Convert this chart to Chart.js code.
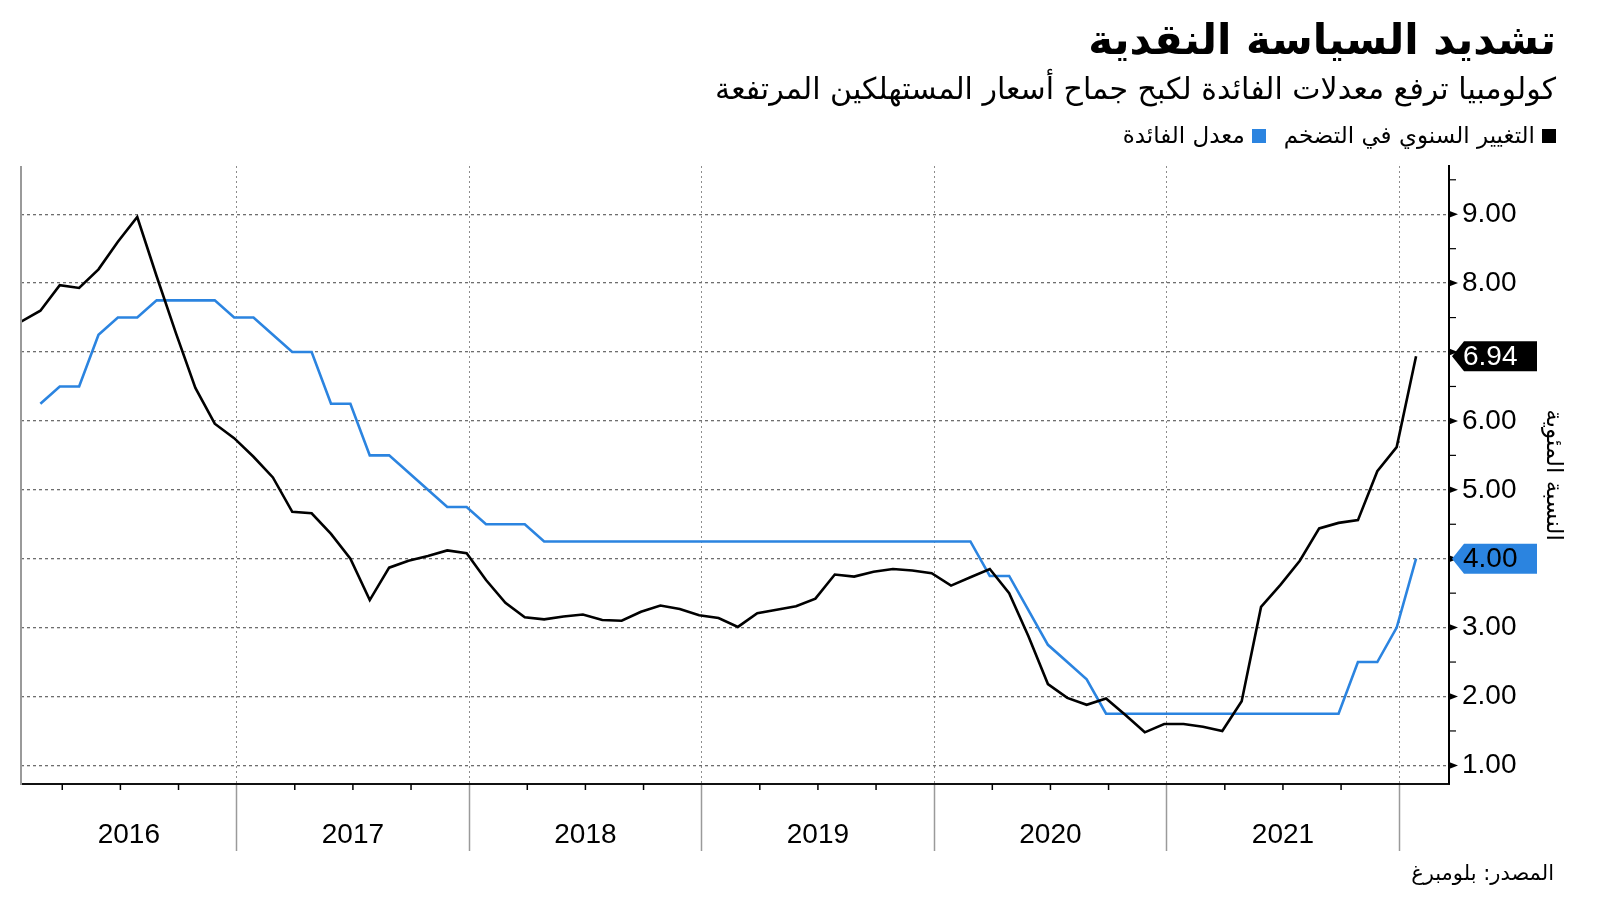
<!DOCTYPE html>
<html lang="ar">
<head>
<meta charset="utf-8">
<title>تشديد السياسة النقدية</title>
<script src="https://cdn.jsdelivr.net/npm/chart.js@4.4.1/dist/chart.umd.min.js"></script>
<style>
  html, body { margin: 0; padding: 0; background: #fff; }
  #wrap { position: relative; width: 1600px; height: 901px; overflow: hidden; font-family: "DejaVu Sans", sans-serif; }
  #chart { position: absolute; left: 0; top: 0; }
  .txt { position: absolute; right: 44px; direction: rtl; white-space: nowrap; color: #000; line-height: 1.2; }
  #title { top: 15px; font-size: 42px; font-weight: bold; }
  #subtitle { top: 71px; font-size: 30px; }
  #legend { top: 122px; font-size: 23px; }
  .sw { display: inline-block; width: 14px; height: 14px; margin-left: 7px; vertical-align: 0px; }
  #source { top: 861px; right: 46px; font-size: 21px; }
</style>
</head>
<body>
<div id="wrap">
  <canvas id="chart" width="1600" height="901"></canvas>
  <div id="title" class="txt">تشديد السياسة النقدية</div>
  <div id="subtitle" class="txt">كولومبيا ترفع معدلات الفائدة لكبح جماح أسعار المستهلكين المرتفعة</div>
  <div id="legend" class="txt"><span class="sw" id="sw1"></span>التغيير السنوي في التضخم<span class="sw" id="sw2" style="margin-right:18px"></span>معدل الفائدة</div>
  <div id="source" class="txt">المصدر: بلومبرغ</div>
</div>
<script>
// monthly data, Jan 2016 .. Jan 2022
const years = ['2016', '2017', '2018', '2019', '2020', '2021'];
const yTicks = [1, 2, 3, 4, 5, 6, 7, 8, 9];

// annual change in inflation (%)
const inflation = [
  7.44, 7.60, 7.97, 7.93, 8.20, 8.60, 8.96, 8.10, 7.27, 6.48, 5.96, 5.75,
  5.48, 5.18, 4.68, 4.66, 4.36, 4.00, 3.40, 3.87, 3.97, 4.04, 4.12, 4.08,
  3.69, 3.36, 3.15, 3.12, 3.16, 3.19, 3.11, 3.10, 3.23, 3.32, 3.27, 3.18,
  3.14, 3.01, 3.21, 3.26, 3.31, 3.42, 3.77, 3.74, 3.81, 3.85, 3.83, 3.79,
  3.61, 3.73, 3.85, 3.50, 2.87, 2.18, 1.98, 1.88, 1.97, 1.73, 1.48, 1.60,
  1.60, 1.56, 1.50, 1.93, 3.30, 3.62, 3.97, 4.44, 4.52, 4.56, 5.27, 5.62,
  6.94
];

// interest rate (%)
const rate = [
  null, 6.25, 6.50, 6.50, 7.25, 7.50, 7.50, 7.75, 7.75, 7.75, 7.75, 7.50,
  7.50, 7.25, 7.00, 7.00, 6.25, 6.25, 5.50, 5.50, 5.25, 5.00, 4.75, 4.75,
  4.50, 4.50, 4.50, 4.25, 4.25, 4.25, 4.25, 4.25, 4.25, 4.25, 4.25, 4.25,
  4.25, 4.25, 4.25, 4.25, 4.25, 4.25, 4.25, 4.25, 4.25, 4.25, 4.25, 4.25,
  4.25, 4.25, 3.75, 3.75, 3.25, 2.75, 2.50, 2.25, 1.75, 1.75, 1.75, 1.75,
  1.75, 1.75, 1.75, 1.75, 1.75, 1.75, 1.75, 1.75, 1.75, 2.50, 2.50, 3.00,
  4.00
];

const black = '#000000';
const blue = '#2b84e0';
const numFont = '"Liberation Sans", Arial, sans-serif';

document.getElementById('sw1').style.background = black;
document.getElementById('sw2').style.background = blue;

// x = months since 1 Jan 2016, readings fall near the end of each month
const dayOffset = 0.87;
const toPoints = (arr) => arr.map((v, i) => ({ x: i + dayOffset, y: v }));
const xMin = dayOffset;
const xMax = inflation.length - 1 + dayOffset + 1.7;

const lastInfl = inflation[inflation.length - 1];
const lastRate = rate[rate.length - 1];
const badges = [
  { value: lastInfl, bg: black, fg: '#fff' },
  { value: lastRate, bg: blue, fg: '#000' }
];

const axisDecor = {
  id: 'axisDecor',
  afterDraw(chart) {
    const { ctx, chartArea: a, scales: { x, y } } = chart;
    ctx.save();

    // left axis line
    ctx.strokeStyle = '#9a9a9a';
    ctx.lineWidth = 2;
    ctx.beginPath();
    ctx.moveTo(a.left, a.top);
    ctx.lineTo(a.left, a.bottom + 1);
    ctx.stroke();

    // quarter ticks under the axis
    ctx.strokeStyle = '#000';
    ctx.lineWidth = 1.5;
    for (let m = 3; m < xMax; m += 3) {
      if (m % 12 === 0 || m < xMin) continue;
      const px = x.getPixelForValue(m);
      ctx.beginPath();
      ctx.moveTo(px, a.bottom);
      ctx.lineTo(px, a.bottom + 6);
      ctx.stroke();
    }

    // year labels, centred in the visible part of each year
    ctx.fillStyle = '#000';
    ctx.font = '28px ' + numFont;
    ctx.textAlign = 'center';
    ctx.textBaseline = 'middle';
    years.forEach((yr, k) => {
      const from = x.getPixelForValue(Math.max(xMin, k * 12));
      const to = x.getPixelForValue(Math.min(xMax, (k + 1) * 12));
      ctx.fillText(yr, (from + to) / 2, a.bottom + 51);
    });

    // arrow marks at major ticks, short marks at halves
    const ax = a.right;
    yTicks.forEach((v) => {
      const py = y.getPixelForValue(v);
      ctx.fillStyle = '#000';
      ctx.beginPath();
      ctx.moveTo(ax, py - 3.5);
      ctx.lineTo(ax + 9, py);
      ctx.lineTo(ax, py + 3.5);
      ctx.closePath();
      ctx.fill();
      const ph = y.getPixelForValue(v + 0.5);
      if (ph > a.top) {
        ctx.strokeStyle = '#000';
        ctx.lineWidth = 1.2;
        ctx.beginPath();
        ctx.moveTo(ax, ph);
        ctx.lineTo(ax + 7, ph);
        ctx.stroke();
      }
    });

    // last value badges
    ctx.font = '28px ' + numFont;
    ctx.textAlign = 'left';
    badges.forEach((b) => {
      const py = y.getPixelForValue(b.value);
      const h = 30;
      ctx.fillStyle = b.bg;
      ctx.beginPath();
      ctx.moveTo(ax + 3, py);
      ctx.lineTo(ax + 15, py - h / 2);
      ctx.lineTo(ax + 88, py - h / 2);
      ctx.lineTo(ax + 88, py + h / 2);
      ctx.lineTo(ax + 15, py + h / 2);
      ctx.closePath();
      ctx.fill();
      ctx.fillStyle = b.fg;
      ctx.fillText(b.value.toFixed(2), ax + 14, py + 1);
    });

    ctx.restore();
  }
};

new Chart(document.getElementById('chart').getContext('2d'), {
  type: 'line',
  data: {
    datasets: [
      {
        label: 'التغيير السنوي في التضخم',
        data: toPoints(inflation),
        borderColor: black,
        borderWidth: 2.6,
        pointRadius: 0,
        tension: 0
      },
      {
        label: 'معدل الفائدة',
        data: toPoints(rate),
        borderColor: blue,
        borderWidth: 2.6,
        pointRadius: 0,
        tension: 0
      }
    ]
  },
  options: {
    responsive: false,
    animation: false,
    devicePixelRatio: 1,
    events: [],
    layout: { padding: { top: 166, left: 21, right: 0, bottom: 0 } },
    plugins: { legend: { display: false }, tooltip: { enabled: false } },
    scales: {
      x: {
        type: 'linear',
        min: xMin,
        max: xMax,
        afterBuildTicks: (s) => {
          s.ticks = [12, 24, 36, 48, 60, 72].map((v) => ({ value: v }));
        },
        afterFit: (s) => { s.height = 117; },
        ticks: { display: false },
        grid: {
          color: '#8c8c8c',
          lineWidth: 1,
          drawTicks: true,
          tickLength: 67,
          tickColor: '#9a9a9a',
          tickWidth: 1.5
        },
        border: { display: true, color: '#111', width: 2, dash: [2, 3] }
      },
      y: {
        position: 'right',
        min: 0.73,
        max: 9.7,
        afterBuildTicks: (s) => {
          s.ticks = yTicks.map((v) => ({ value: v }));
        },
        afterFit: (s) => { s.width = 151; },
        ticks: {
          padding: 13,
          color: '#000',
          font: { family: numFont, size: 28 },
          callback: (v) => badges.some((b) => Math.abs(b.value - v) < 0.4) ? '' : v.toFixed(2)
        },
        grid: { color: '#6e6e6e', lineWidth: 1.3, drawTicks: false },
        border: { display: true, color: '#000', width: 2, dash: [3, 3] },
        title: {
          display: true,
          text: 'النسبة المئوية',
          color: '#000',
          font: { family: '"DejaVu Sans", sans-serif', size: 23 },
          padding: { top: 33, bottom: 0 }
        }
      }
    }
  },
  plugins: [axisDecor]
});
</script>
</body>
</html>
